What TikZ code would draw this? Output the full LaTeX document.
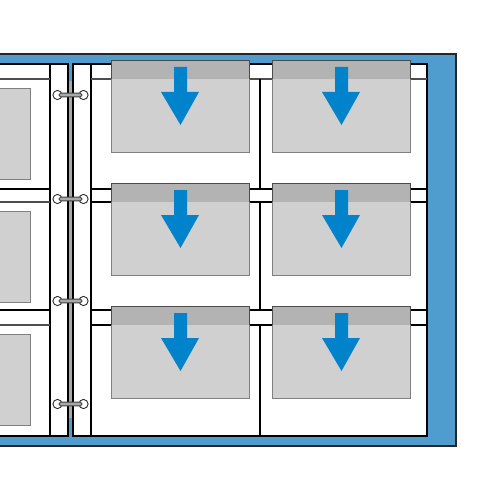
\documentclass[tikz,border=0pt]{standalone}
\usepackage{xcolor}
\definecolor{coverblue}{HTML}{4F9CCF}
\definecolor{arrowblue}{HTML}{0083CB}
\definecolor{photogray}{HTML}{D0D0D0}
\definecolor{bandgray}{HTML}{B3B3B3}
\definecolor{edgegray}{HTML}{808080}
\definecolor{spinegray}{HTML}{A8A8A8}

\begin{document}
\begin{tikzpicture}[x=0.02cm,y=-0.02cm,
    pageline/.style={black,line width=0.6pt},
    pocketlow/.style={edgegray!60!black,line width=0.6pt},
    photo/.style={fill=photogray,draw=edgegray,line width=0.5pt},
    ringeye/.style={fill=white,draw=black!85,line width=0.5pt}]
  \useasboundingbox (0,0) rectangle (500,500);
  % cover
  \fill[coverblue] (0,54) rectangle (456,446);
  \draw[black!85,line width=0.8pt] (0,54) -- (456,54) -- (456,446) -- (0,446);
  % pages
  \fill[white] (0,64) rectangle (68,436);
  \fill[white] (73,64) rectangle (427,436);
  \fill[spinegray] (68,81) rectangle (73,418);
  \draw[line width=1pt] (0,64) -- (68,64) -- (68,436) -- (0,436);
  \draw[line width=1pt] (73,436) -- (73,64) -- (427,64) -- (427,436) -- cycle;
  % strips
  \draw[pageline] (50,64) -- (50,436);
  \draw[pageline] (91,64) -- (91,436);
  % pockets
  \foreach \yt/\yb in {64/79,189/202,310/325}{
    \ifnum\yt>64
      \draw[pageline] (0,\yt) -- (50,\yt);
      \draw[pageline] (91,\yt) -- (427,\yt);
      \draw[pageline] (91,\yb) -- (427,\yb);
    \else
      \draw[pocketlow] (91,\yb) -- (427,\yb);
    \fi
    \draw[pocketlow] (0,\yb) -- (50,\yb);
  }
  \draw[pageline] (260,79) -- (260,189);
  \draw[pageline] (260,202) -- (260,310);
  \draw[pageline] (260,325) -- (260,436);
  % photos on left page
  \foreach \yt in {88,211,334}
    \draw[photo] (-2,\yt) rectangle (30,\yt+91);
  % photos on right page, with arrows
  \foreach \yt in {60,183,306}{
    \foreach \xl in {111,272}{
      \draw[photo] (\xl,\yt) rectangle (\xl+138,\yt+92);
      \fill[bandgray] (\xl,\yt) rectangle (\xl+138,\yt+19);
      \draw[black!70,line width=0.5pt] (\xl,\yt+19) -- (\xl,\yt) -- (\xl+138,\yt) -- (\xl+138,\yt+19);
      \fill[arrowblue] (\xl+63,\yt+7) -- (\xl+76,\yt+7) -- (\xl+76,\yt+32) -- (\xl+88,\yt+32)
        -- (\xl+69.5,\yt+65) -- (\xl+50,\yt+32) -- (\xl+63,\yt+32) -- cycle;
    }
  }
  % rings
  \foreach \yr in {95,199,301,404}{
    \draw[ringeye] (57.5,\yr) circle [radius=4.6];
    \draw[ringeye] (83.5,\yr) circle [radius=4.6];
    \draw[fill=spinegray,draw=black!75,line width=0.5pt,rounded corners=1] (59,\yr-1.9) rectangle (82,\yr+1.9);
  }
\end{tikzpicture}
\end{document}
